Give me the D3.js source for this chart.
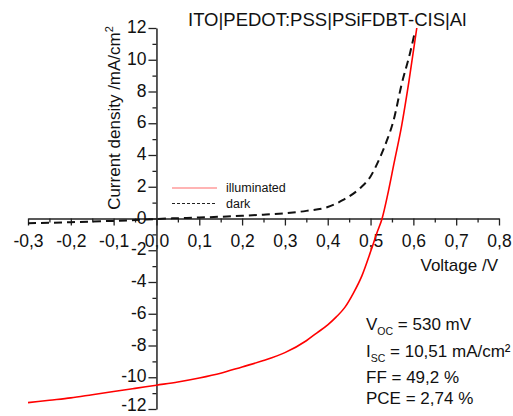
<!DOCTYPE html>
<html>
<head>
<meta charset="utf-8">
<script src="https://cdn.jsdelivr.net/npm/d3@7"></script>
<style>
  html, body { margin: 0; padding: 0; background: #fff; }
  svg { display: block; font-family: "Liberation Sans", Arial, sans-serif; }
</style>
</head>
<body>
<svg id="chart" width="513" height="416"></svg>
<script>
// ---- data ----
const voltageIllum = [-0.3, -0.25, -0.2, -0.15, -0.1, -0.05, 0, 0.05, 0.1, 0.15, 0.2, 0.25, 0.3, 0.35, 0.375, 0.4, 0.42, 0.44, 0.46, 0.48, 0.5, 0.515, 0.527, 0.54, 0.555, 0.573, 0.59, 0.608];
const currentIllum = [-11.6, -11.45, -11.3, -11.1, -10.9, -10.7, -10.5, -10.3, -10.05, -9.75, -9.35, -8.95, -8.45, -7.7, -7.2, -6.7, -6.2, -5.6, -4.7, -3.6, -2.1, -0.9, 0, 1.5, 3.5, 5.9, 8.7, 12];
const voltageDark = [-0.3, -0.25, -0.2, -0.15, -0.1, -0.05, 0, 0.05, 0.1, 0.15, 0.2, 0.25, 0.3, 0.35, 0.4, 0.436, 0.475, 0.5, 0.518, 0.538, 0.553, 0.573, 0.592, 0.604];
const currentDark = [-0.3, -0.27, -0.23, -0.19, -0.15, -0.1, -0.03, 0.02, 0.06, 0.11, 0.17, 0.24, 0.33, 0.48, 0.72, 1.17, 1.9, 2.65, 3.6, 4.9, 6.1, 8.5, 10.4, 11.8];
const xTicks = [-0.3, -0.2, -0.1, 0, 0.1, 0.2, 0.3, 0.4, 0.5, 0.6, 0.7, 0.8];
const xTickLabels = ["-0,3", "-0,2", "-0,1", "0,0", "0,1", "0,2", "0,3", "0,4", "0,5", "0,6", "0,7", "0,8"];
const yTicks = [-12, -10, -8, -6, -4, -2, 0, 2, 4, 6, 8, 10, 12];
const yTickLabels = ["-12", "-10", "-8", "-6", "-4", "-2", "0", "2", "4", "6", "8", "10", "12"];
const seriesNames = ["illuminated", "dark"];
const titleText = "ITO|PEDOT:PSS|PSiFDBT-CIS|Al";
const params = [
  {main: "V", sub: "OC", rest: " = 530 mV"},
  {main: "I", sub: "SC", rest: " = 10,51 mA/cm²"},
  {main: "FF = 49,2 %", sub: "", rest: ""},
  {main: "PCE = 2,74 %", sub: "", rest: ""}
];

// ---- drawing ----
const svg = d3.select("#chart");
const x = d3.scaleLinear().domain([-0.3, 0.8]).range([28, 499]);
const y = d3.scaleLinear().domain([-12, 12]).range([409, 28]);
const axisColor = "#222";

// minor ticks
const xMinor = d3.range(-0.3, 0.8001, 0.05).map(v => +v.toFixed(2)).filter(v => !xTicks.some(t => Math.abs(t - v) < 1e-6));
const yMinor = d3.range(-11, 12, 2);

// X axis at y=0
const gx = svg.append("g").attr("transform", `translate(0,${y(0)})`);
gx.call(d3.axisBottom(x).tickValues(xMinor).tickSize(4).tickFormat(""))
  .call(g => g.select(".domain").remove());
gx.append("g").call(d3.axisBottom(x).tickValues(xTicks).tickSize(7).tickSizeOuter(0)
    .tickFormat((d, i) => xTickLabels[i]));
gx.selectAll("line").attr("stroke", axisColor).attr("stroke-width", 1.3);
gx.selectAll(".domain").attr("stroke", axisColor).attr("stroke-width", 1.5);
gx.selectAll("text").attr("font-size", 17.5).attr("fill", "#111")
  .attr("font-family", "Liberation Sans, Arial, sans-serif").attr("y", 0).attr("dy", 0)
  .attr("transform", "translate(0,28)");

// Y axis at x=0
const gy = svg.append("g").attr("transform", `translate(${x(0)},0)`);
gy.call(d3.axisLeft(y).tickValues(yMinor).tickSize(4).tickFormat(""))
  .call(g => g.select(".domain").remove());
gy.append("g").call(d3.axisLeft(y).tickValues(yTicks).tickSize(8).tickSizeOuter(0)
    .tickFormat((d, i) => yTickLabels[i]));
gy.selectAll("line").attr("stroke", axisColor).attr("stroke-width", 1.3);
gy.selectAll(".domain").attr("stroke", axisColor).attr("stroke-width", 1.5);
gy.selectAll("text").attr("font-size", 17.5).attr("fill", "#111")
  .attr("font-family", "Liberation Sans, Arial, sans-serif").attr("x", -10)
  .attr("dy", d => d === -12 ? "0.1em" : "0.27em");

// Lines
const line = d3.line().x(d => x(d[0])).y(d => y(d[1])).curve(d3.curveMonotoneX);
const dark = voltageDark.map((v, i) => [v, currentDark[i]]);
const illum = voltageIllum.map((v, i) => [v, currentIllum[i]]);
svg.append("path").datum(dark).attr("d", line).attr("fill", "none")
  .attr("stroke", "#111").attr("stroke-width", 2).attr("stroke-dasharray", "8,5");
svg.append("path").datum(illum).attr("d", line).attr("fill", "none")
  .attr("stroke", "#ff0000").attr("stroke-width", 1.6);

// Legend
const leg = svg.append("g");
leg.append("line").attr("x1", 172).attr("x2", 217).attr("y1", 188).attr("y2", 188)
  .attr("stroke", "#ff6a6a").attr("stroke-width", 1.2);
leg.append("line").attr("x1", 172).attr("x2", 216).attr("y1", 203.5).attr("y2", 203.5)
  .attr("stroke", "#222").attr("stroke-width", 1).attr("stroke-dasharray", "3,2");
leg.selectAll("text.leg").data(seriesNames).join("text").attr("class", "leg")
  .attr("x", 226).attr("y", (d, i) => 192 + i * 15.5).attr("font-size", 12.5).attr("fill", "#111").text(d => d);

// Title
svg.append("text").attr("x", 188).attr("y", 26).attr("font-size", 18.5).attr("fill", "#111").text(titleText);

// Axis titles
svg.append("text").attr("x", 498).attr("y", 271).attr("text-anchor", "end")
  .attr("font-size", 17).attr("fill", "#111").text("Voltage /V");
const yl = svg.append("text").attr("transform", "translate(120,118) rotate(-90)")
  .attr("text-anchor", "middle").attr("font-size", 17).attr("fill", "#111");
yl.append("tspan").text("Current density /mA/cm");
yl.append("tspan").attr("font-size", 11).attr("dy", -7).text("2");

// Parameter box
const pb = [330, 357, 383, 404];
params.forEach((p, i) => {
  const t = svg.append("text").attr("x", 366).attr("y", pb[i]).attr("font-size", 17).attr("fill", "#111");
  t.append("tspan").text(p.main);
  if (p.sub) {
    t.append("tspan").attr("font-size", 10.5).attr("dy", 5).text(p.sub);
    t.append("tspan").attr("dy", -5).text(p.rest);
  }
});
</script>
</body>
</html>
